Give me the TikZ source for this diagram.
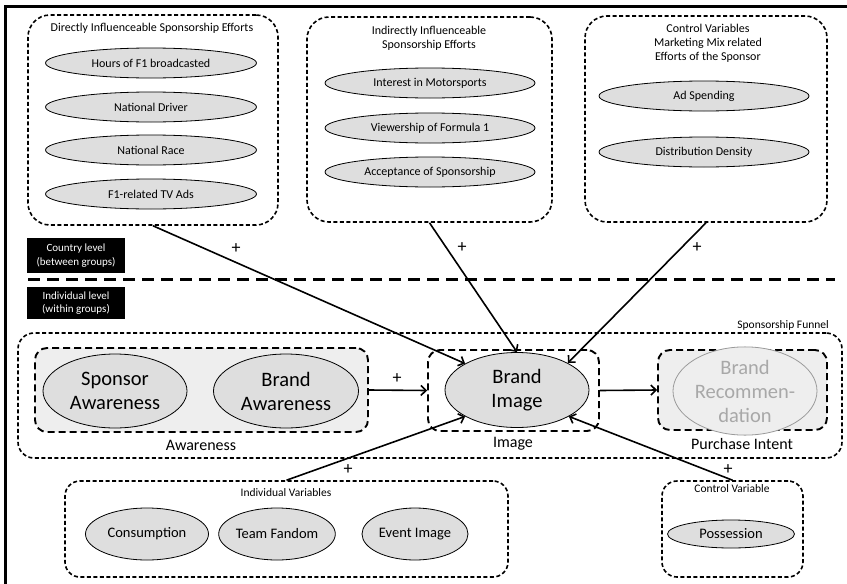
\documentclass[tikz,border=0pt]{standalone}
\usepackage{fontspec}
\setmainfont{Carlito}
\usetikzlibrary{shapes.geometric,arrows.meta}
\definecolor{ellfill}{HTML}{DEDEDE}
\definecolor{boxfill}{HTML}{EEEEEE}
\definecolor{fadetext}{HTML}{A8A8A8}
\definecolor{fadeline}{HTML}{9A9A9A}
\tikzset{
  grp/.style={draw, line width=1.6pt, dash pattern=on 4pt off 2.5pt, rounded corners=22pt, inner sep=0pt},
  smallgrp/.style={grp, rounded corners=15pt},
  stage/.style={draw, line width=1.9pt, dash pattern=on 7pt off 4pt, rounded corners=12pt, inner sep=0pt},
  var/.style={ellipse, draw, line width=0.8pt, fill=ellfill, inner sep=0pt, font=\fontsize{12}{14}\selectfont},
  lowvar/.style={var, font=\fontsize{14.5}{17}\selectfont},
  bigvar/.style={var, align=center, font=\fontsize{20.5}{24}\selectfont},
  lvl/.style={fill=black, text=white, inner sep=0pt, minimum width=98pt, align=center, font=\fontsize{11}{13.5}\selectfont},
  ttl/.style={inner sep=0pt, align=center, font=\fontsize{12}{14}\selectfont},
  stagelbl/.style={inner sep=0pt, font=\fontsize{16}{18}\selectfont},
  arr/.style={-{Straight Barb[length=5pt,width=10pt]}, line width=1.6pt},
  plus/.style={inner sep=0pt, font=\fontsize{18}{18}\selectfont},
}
\begin{document}
\begin{tikzpicture}[x=1pt,y=-1pt]
\useasboundingbox (0,0) rectangle (847,584);
% frame
\draw[line width=2.5pt] (5.5,600) -- (5.5,6.5) -- (860,6.5);

% country-level groups
\node[grp, minimum width=250pt, minimum height=210pt] (dir) at (153,120) {};
\node[ttl] (dirT) at (152,28) {Directly Influenceable Sponsorship Efforts};
\node[var, minimum width=211pt, minimum height=30pt] (hours) at (151,63) {Hours of F1 broadcasted};
\node[var, minimum width=211pt, minimum height=30pt] (driver) at (151,107) {National Driver};
\node[var, minimum width=211pt, minimum height=30pt] (race) at (151,150) {National Race};
\node[var, minimum width=211pt, minimum height=30pt] (tvads) at (151,194) {F1-related TV Ads};

\node[grp, minimum width=245pt, minimum height=205pt] (ind) at (429.5,119.5) {};
\node[ttl] (indT) at (429,38.5) {Indirectly Influenceable\\Sponsorship Efforts};
\node[var, minimum width=210pt, minimum height=30pt] (motor) at (430,83) {Interest in Motorsports};
\node[var, minimum width=210pt, minimum height=30pt] (view) at (430,128) {Viewership of Formula 1};
\node[var, minimum width=210pt, minimum height=30pt] (accept) at (430,172) {Acceptance of Sponsorship};

\node[grp, minimum width=242pt, minimum height=206pt] (ctl) at (706,119) {};
\node[ttl] (ctlT) at (708,43) {Control Variables\\Marketing Mix related\\Efforts of the Sponsor};
\node[var, minimum width=210pt, minimum height=30pt] (adsp) at (704,96) {Ad Spending};
\node[var, minimum width=210pt, minimum height=30pt] (dist) at (704,152) {Distribution Density};

% level separator
\node[lvl, minimum height=35pt] (cl) at (76,255.5) {Country level\\(between groups)};
\draw[line width=3pt, dash pattern=on 12pt off 7pt] (28,279) -- (835,279);
\node[lvl, minimum height=32pt] (il) at (76,303) {Individual level\\(within groups)};

% sponsorship funnel
\node[grp, rounded corners=16pt, minimum width=824pt, minimum height=125pt] (funnel) at (430,395.5) {};
\node[inner sep=0pt, anchor=east, font=\fontsize{11.5}{13}\selectfont] (funnelT) at (829,325) {Sponsorship Funnel};

\node[stage, fill=boxfill, minimum width=333pt, minimum height=84pt] (aw) at (201.5,390) {};
\node[stage, minimum width=171pt, minimum height=81pt] (im) at (513.5,390.5) {};
\node[stage, fill=boxfill, minimum width=169pt, minimum height=80pt] (pi) at (742.5,390) {};
\node[stagelbl] (awT) at (201,445) {Awareness};
\node[stagelbl] (imT) at (513,444) {Image};
\node[stagelbl] (piT) at (742,444) {Purchase Intent};

\node[bigvar, minimum width=144pt, minimum height=74pt] (spaw) at (115,391) {Sponsor\\Awareness};
\node[bigvar, minimum width=145pt, minimum height=74pt] (braw) at (286,391) {Brand\\Awareness};
\node[bigvar, minimum width=144pt, minimum height=75pt] (bimg) at (517,390) {Brand\\Image};
\node[bigvar, draw=fadeline, fill=boxfill, text=fadetext, minimum width=144pt, minimum height=73pt] (brec) at (745,391) {Brand\\Recommen-\\dation};

% individual-level groups
\node[smallgrp, minimum width=443pt, minimum height=96pt] (iv) at (286.5,529) {};
\node[inner sep=0pt, font=\fontsize{11.5}{13}\selectfont] (ivT) at (286,493) {Individual Variables};
\node[lowvar, minimum width=123pt, minimum height=52pt] (cons) at (147,534) {Consumption};
\node[lowvar, minimum width=106pt, minimum height=52pt] (team) at (277,534) {Team Fandom};
\node[lowvar, minimum width=106pt, minimum height=52pt] (event) at (415,534) {Event Image};

\node[smallgrp, minimum width=141pt, minimum height=96pt] (cv) at (732.5,529) {};
\node[inner sep=0pt, font=\fontsize{11.5}{13}\selectfont] (cvT) at (732,489) {Control Variable};
\node[lowvar, minimum width=127pt, minimum height=28pt] (poss) at (731,534) {Possession};

% effects
\draw[arr] (dir.south) -- (bimg.153);
\draw[arr] (ind.south) -- (bimg.90);
\draw[arr] (ctl.south) -- (bimg.28);
\draw[arr] (aw.east) -- (im.west);
\draw[arr] (im.east) -- (pi.west);
\draw[arr] (iv.north) -- (bimg.207);
\draw[arr] (cv.north) -- (bimg.333);

\node[plus] (p1) at (236,249) {+};
\node[plus] (p2) at (462,248) {+};
\node[plus] (p3) at (697,248) {+};
\node[plus] (p4) at (397,379) {+};
\node[plus] (p5) at (348,470) {+};
\node[plus] (p6) at (728,470) {+};
\end{tikzpicture}
\end{document}
